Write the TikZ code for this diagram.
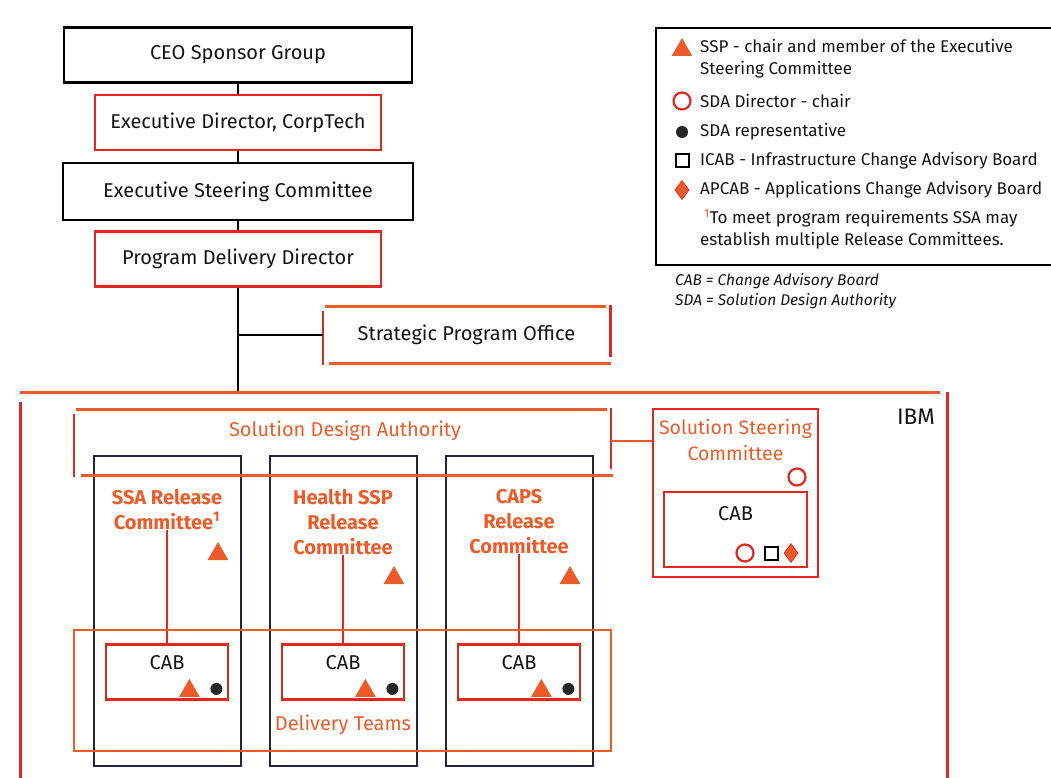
\documentclass[tikz,border=0pt]{standalone}
\usepackage{fontspec}
\setmainfont{Fira Sans}
\usetikzlibrary{shapes.geometric}
\definecolor{ibmorange}{RGB}{236,92,42}
\definecolor{ibmred}{RGB}{228,38,32}
\definecolor{colnavy}{RGB}{36,36,60}
\definecolor{txtgrey}{RGB}{20,20,20}

\begin{document}
\begin{tikzpicture}[x=1pt, y=-1pt, every node/.style={font=\fontsize{20}{24}\selectfont, text=txtgrey},
    blackbox/.style={draw=black, line width=2.4pt, minimum height=55pt},
    redbox/.style={draw=ibmred, line width=2.6pt, minimum height=55pt},
    spine/.style={draw=black, line width=2pt},
    colbox/.style={draw=colnavy, line width=2pt, minimum width=147pt, minimum height=310pt},
    cabbox/.style={draw=ibmred, line width=2.8pt, minimum width=122pt, minimum height=55pt},
    cablabel/.style={anchor=north, inner sep=0pt, yshift=-12pt},
    reltitle/.style={anchor=north, align=center, inner sep=0pt, font=\fontsize{20}{25}\selectfont\bfseries, text=ibmorange},
    ssp/.style={regular polygon, regular polygon sides=3, fill=ibmorange, inner sep=0pt, minimum size=24pt},
    sdadir/.style={circle, draw=ibmred, line width=2.2pt, inner sep=0pt, minimum size=17pt},
    sdarep/.style={circle, fill=black!85, inner sep=0pt, minimum size=12pt},
    icab/.style={rectangle, draw=black, line width=2pt, inner sep=0pt, minimum size=13pt},
    apcab/.style={diamond, fill=ibmorange, draw=ibmred, line width=0.8pt, inner sep=0pt, minimum width=14pt, minimum height=19pt},
    legtext/.style={anchor=west, inner sep=0pt, font=\fontsize{17}{22}\selectfont}]
    \useasboundingbox (0,0) rectangle (1051,778);

    % top of the chain
    \node[blackbox, minimum width=348pt] (ceo) at (238,55) {CEO Sponsor Group};
    \node[redbox, minimum width=286pt] (execdir) at (238,122.5) {Executive Director, CorpTech};
    \node[blackbox, minimum width=350pt, minimum height=57pt] (esc) at (238,191.5) {Executive Steering Committee};
    \node[redbox, minimum width=286pt] (pdd) at (238,259) {Program Delivery Director};
    \draw[spine] (ceo) -- (execdir);
    \draw[spine] (execdir) -- (esc);
    \draw[spine] (esc) -- (pdd);
    \coordinate (ibmjoin) at (238,392);
    \draw[spine] (pdd.south) -- (ibmjoin);

    % Strategic Program Office, bracket style
    \node[minimum width=287pt, minimum height=56pt] (spo) at (466.5,335) {Strategic Program Office};
    \draw[ibmorange, line width=3pt] ([xshift=2pt]spo.north west) -- ([xshift=-4pt]spo.north east);
    \draw[ibmorange, line width=3pt] ([xshift=6pt]spo.south west) -- ([xshift=1pt]spo.south east);
    \draw[ibmred, line width=2.6pt] ([yshift=-4pt]spo.north west) -- ([yshift=-2pt]spo.south west);
    \draw[ibmred, line width=2.6pt] ([yshift=2pt]spo.north east) -- ([yshift=6pt]spo.south east);
    \draw[draw=black, line width=1.4pt] (pdd.south |- spo.west) -- (spo.west);

    % IBM frame
    \draw[ibmorange, line width=3pt] (20,392) -- (940,392);
    \draw[ibmred, line width=3pt] (947,392) -- (947,778);
    \draw[ibmred, line width=3pt] (20,402) -- (20,778);
    \node[font=\fontsize{22.5}{26}\selectfont] (ibm) at (916,417) {IBM};

    % release committees
    \foreach \n/\x/\ty/\title in {1/167/554/{SSA Release\\Committee\textsuperscript{1}},
                                  2/343/578/{Health SSP\\Release\\Committee},
                                  3/519/578/{CAPS\\Release\\Committee}} {
        \node[colbox] (col\n) at (\x,611) {};
        \node[reltitle] (rel\n) at (\x,489) {\title};
        \node[ssp] (relssp\n) at (\x+51,\ty) {};
        \node[cabbox, label={[cablabel]north:CAB}] (cab\n) at (\x,672) {};
        \node[ssp] (cabssp\n) at ([xshift=-40pt, yshift=10pt]cab\n.south east) {};
        \node[sdarep] (cabrep\n) at ([xshift=-13pt, yshift=12pt]cab\n.south east) {};
        \draw[ibmred, line width=1.8pt] (rel\n.south) -- (cab\n.north);
    }

    % Delivery Teams
    \node[draw=ibmorange, line width=1.6pt, minimum width=537pt, minimum height=121pt] (teams) at (342.5,690.5) {};
    \node[text=ibmorange] (teamtxt) at (343,725) {Delivery Teams};

    % Solution Design Authority, bracket style
    \node[text=ibmorange] (sda) at (345,431) {Solution Design Authority};
    \draw[ibmorange, line width=3pt] (76,409) -- (607,409);
    \draw[ibmorange, line width=3pt] (81,475) -- (613,475);
    \draw[ibmred, line width=2.6pt] (74,414) -- (74,477);
    \draw[ibmred, line width=2.6pt] (611,408) -- (611,469);
    \coordinate (sdaright) at (611,441);

    % Solution Steering Committee
    \node[draw=ibmred, line width=2.4pt, minimum width=165pt, minimum height=168pt,
          label={[anchor=north, align=center, inner sep=0pt, yshift=-11pt, text=ibmorange, font=\fontsize{19.5}{26}\selectfont]north:Solution Steering\\Committee}] (ssc) at (735.5,493) {};
    \node[sdadir] (sscdir) at (797,477) {};
    \node[draw=ibmred, line width=2.8pt, minimum width=143pt, minimum height=75pt,
          label={[cablabel, yshift=-4pt]north:CAB}] (ssccab) at (735.5,529.5) {};
    \node[sdadir] (ssccabdir) at (745,553) {};
    \node[icab] (ssccabicab) at (771,553) {};
    \node[apcab] (ssccabapcab) at (791,553) {};
    \draw[ibmorange, line width=2pt] (sdaright) -- (sdaright -| ssc.west);

    % legend
    \draw[black, line width=1.5pt] (1051,28) -- (656,28) -- (656,265) -- (1051,265);
    \node[ssp] (legssp) at (682,50) {};
    \node[legtext, anchor=north west, align=left] (legssptxt) at (700,39) {SSP - chair and member of the Executive\\Steering Committee};
    \node[sdadir] (legdir) at (682,101) {};
    \node[legtext] (legdirtxt) at (700,101) {SDA Director - chair};
    \node[sdarep] (legrep) at (682,132) {};
    \node[legtext] (legreptxt) at (700,132) {SDA representative};
    \node[icab] (legicab) at (682,161) {};
    \node[legtext] (legicabtxt) at (700,161) {ICAB - Infrastructure Change Advisory Board};
    \node[apcab] (legapcab) at (682,190) {};
    \node[legtext] (legapcabtxt) at (700,190) {APCAB - Applications Change Advisory Board};
    \node[legtext, anchor=north west, align=left] (legnote) at (700,209) {\hspace*{4pt}{\color{ibmorange}\textsuperscript{1}}To meet program requirements SSA may\\establish multiple Release Committees.};
    \node[legtext, anchor=north west, align=left, font=\fontsize{15.5}{20}\selectfont\itshape] (legabbr) at (675,273) {CAB = Change Advisory Board\\SDA = Solution Design Authority};
\end{tikzpicture}
\end{document}
